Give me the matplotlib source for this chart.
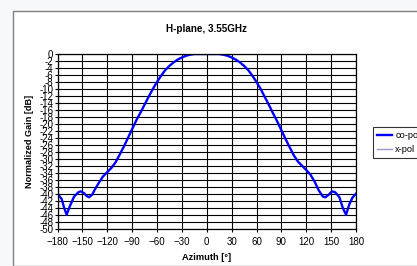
import numpy as np
import matplotlib
matplotlib.use("Agg")
import matplotlib.pyplot as plt
from matplotlib.patches import Rectangle

plt.rcParams['font.family'] = ['Liberation Sans', 'DejaVu Sans']

# H-plane co-pol pattern
azimuth = [-180, -175, -172, -169, -165, -160, -155, -152, -148, -145, -142, -138,
           -135, -130, -125, -120, -115, -110, -105, -100, -95, -90, -85, -80,
           -75, -70, -65, -60, -55, -50, -45, -40, -35, -30, -25, -20, -15,
           -10, -5, 0, 5, 10, 15, 20, 25, 30, 35, 40, 45, 50, 55, 60, 65, 70,
           75, 80, 85, 90, 95, 100, 105, 110, 115, 120, 125, 130, 135, 140,
           143, 147, 151, 155, 160, 164, 168, 172, 176, 180]
co_pol = [-40.0, -41.5, -44.0, -46.0, -43.5, -40.8, -39.6, -39.3, -39.8, -40.6, -41.0, -40.2,
          -38.8, -36.8, -35.0, -33.8, -32.6, -31.0, -28.8, -26.5, -24.0, -21.5, -19.0, -16.8,
          -14.5, -12.2, -10.0, -8.0, -6.2, -4.6, -3.4, -2.4, -1.6, -1.0, -0.5, -0.2, 0.0,
          0.0, 0.0, 0.0, 0.0, 0.0, 0.0, -0.2, -0.5, -1.0, -1.6, -2.4, -3.4, -4.6, -6.2, -8.0, -10.0, -12.3,
          -14.6, -17.0, -19.3, -21.8, -24.3, -26.7, -29.0, -30.8, -32.0, -33.2, -34.5, -36.5, -39.0, -40.8,
          -41.0, -40.3, -39.3, -39.6, -41.0, -44.0, -46.0, -43.0, -41.0, -40.0]
x_pol_az = []
x_pol = []

x_ticks = list(range(-180, 181, 30))
y_ticks = list(range(0, -51, -2))

fig = plt.figure(figsize=(4.17, 2.66), dpi=100)
fig.patch.set_facecolor('#f7f8fa')
# chart area box
fig.patches.append(Rectangle((12.5 / 417, 0), 1, 1 - 11 / 266, transform=fig.transFigure,
                             facecolor='white', edgecolor='#808080', linewidth=1.0, zorder=-10))

ax = fig.add_axes([57.5 / 417, 1 - 228.7 / 266, 298.5 / 417, 174.7 / 266])
ax.plot(azimuth, co_pol, color='#0000ff', linewidth=1.7, label='co-pol')
ax.plot(x_pol_az, x_pol, color='#9999cc', linewidth=1.0, label='x-pol')

ax.set_xlim(-180, 180)
ax.set_ylim(-50, 0)
ax.set_xticks(x_ticks)
ax.set_yticks(y_ticks)
ax.set_yticklabels([str(v) for v in y_ticks])
ax.grid(True, color='black', linewidth=0.8)
ax.set_axisbelow(True)
for s in ax.spines.values():
    s.set_color('black')
    s.set_linewidth(0.9)
ax.tick_params(axis='x', direction='out', length=2, width=0.8, labelsize=7, pad=4)
ax.tick_params(axis='y', direction='inout', length=4, width=0.8, labelsize=7, pad=1)

ax.set_title('H-plane, 3.55GHz', fontsize=7.1, fontweight='bold', pad=16)
ax.set_xlabel('Azimuth [°]', fontsize=6.7, fontweight='bold', labelpad=4)
ax.set_ylabel('Normalized Gain [dB]', fontsize=6.6, fontweight='bold', labelpad=4)

leg = fig.legend(loc='upper left', bbox_to_anchor=(373 / 417, 1 - 127 / 266), fontsize=6.7,
                 frameon=True, fancybox=False, handlelength=1.6, handletextpad=0.35,
                 borderpad=0.45, labelspacing=0.55, borderaxespad=0)
leg.get_frame().set_edgecolor('black')
leg.get_frame().set_linewidth(0.8)

fig.savefig('out.png', dpi=100)
